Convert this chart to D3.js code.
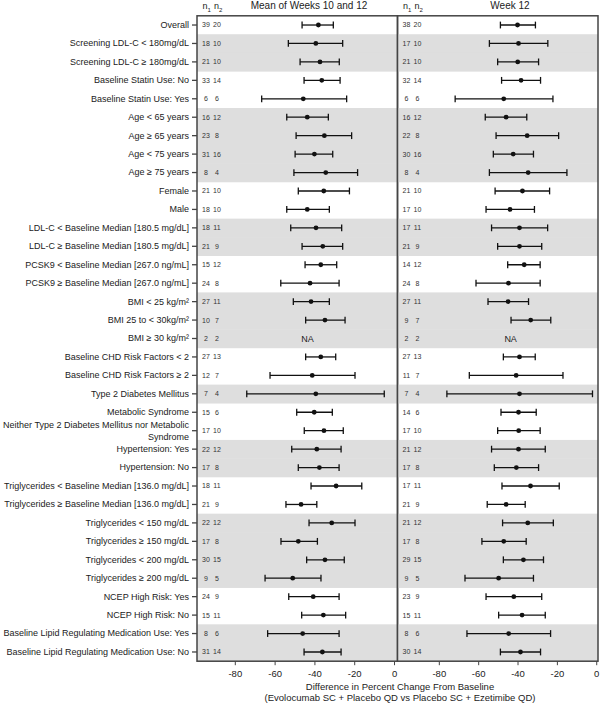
<!DOCTYPE html>
<html>
<head>
<meta charset="utf-8">
<script src="https://cdn.jsdelivr.net/npm/d3@7"></script>
<style>
  body { margin: 0; background: #fff; }
  svg { font-family: "Liberation Sans", Arial, sans-serif; }
</style>
</head>
<body>
<svg width="600" height="703"></svg>
<script>
// subgroup labels (top to bottom)
var labels = [
  "Overall",
  "Screening LDL-C < 180mg/dL",
  "Screening LDL-C ≥ 180mg/dL",
  "Baseline Statin Use: No",
  "Baseline Statin Use: Yes",
  "Age < 65 years",
  "Age ≥ 65 years",
  "Age < 75 years",
  "Age ≥ 75 years",
  "Female",
  "Male",
  "LDL-C < Baseline Median [180.5 mg/dL]",
  "LDL-C ≥ Baseline Median [180.5 mg/dL]",
  "PCSK9 < Baseline Median [267.0 ng/mL]",
  "PCSK9 ≥ Baseline Median [267.0 ng/mL]",
  "BMI < 25 kg/m²",
  "BMI 25 to < 30kg/m²",
  "BMI ≥ 30 kg/m²",
  "Baseline CHD Risk Factors < 2",
  "Baseline CHD Risk Factors ≥ 2",
  "Type 2 Diabetes Mellitus",
  "Metabolic Syndrome",
  "Neither Type 2 Diabetes Mellitus nor Metabolic\nSyndrome",
  "Hypertension: Yes",
  "Hypertension: No",
  "Triglycerides < Baseline Median [136.0 mg/dL]",
  "Triglycerides ≥ Baseline Median [136.0 mg/dL]",
  "Triglycerides < 150 mg/dL",
  "Triglycerides ≥ 150 mg/dL",
  "Triglycerides < 200 mg/dL",
  "Triglycerides ≥ 200 mg/dL",
  "NCEP High Risk: Yes",
  "NCEP High Risk: No",
  "Baseline Lipid Regulating Medication Use: Yes",
  "Baseline Lipid Regulating Medication Use: No"
];
// subgroup family of each row (odd families get the grey band)
var groups = [0,1,1,2,2,3,3,3,3,4,4,5,5,6,6,7,7,7,8,8,9,10,10,11,11,12,12,13,13,13,13,14,14,15,15];

// Mean of Weeks 10 and 12
var n1Mean = [39,18,21,33,6,16,23,31,8,21,18,18,21,15,24,27,10,2,27,12,7,15,17,22,17,18,21,22,17,30,9,24,15,8,31];
var n2Mean = [20,10,10,14,6,12,8,16,4,10,10,11,9,12,8,11,7,2,13,7,4,6,10,12,8,11,9,12,8,15,5,9,11,6,14];
var estMean = [-38.0,-39.3,-37.2,-36.3,-45.6,-43.6,-35.0,-40.0,-34.3,-35.3,-43.6,-39.2,-35.8,-36.8,-42.2,-41.7,-34.7,null,-36.8,-41.1,-39.3,-40.1,-35.2,-38.8,-37.5,-29.1,-46.7,-31.3,-48.1,-34.7,-50.9,-40.6,-35.5,-45.9,-36.0];
var loMean = [-46.2,-53.1,-47.2,-45.2,-66.5,-53.9,-49.2,-49.7,-50.3,-48.1,-53.9,-51.9,-46.2,-44.7,-56.9,-50.6,-44.4,null,-44.4,-62.3,-74.0,-48.9,-45.1,-51.4,-48.1,-41.7,-54.3,-42.7,-56.8,-43.9,-64.8,-52.9,-46.4,-63.5,-45.2];
var hiMean = [-30.5,-25.8,-27.5,-27.1,-23.8,-33.0,-21.3,-30.8,-18.3,-22.4,-32.5,-26.3,-25.8,-28.8,-27.6,-32.5,-24.6,null,-29.3,-19.6,-4.9,-31.0,-25.5,-26.6,-27.6,-16.2,-38.8,-19.6,-38.5,-25.0,-36.7,-27.6,-24.3,-27.6,-26.6];

// Week 12
var n1Wk12 = [38,17,21,32,6,16,22,30,8,21,17,17,21,14,24,27,9,2,27,11,7,14,17,21,17,17,21,21,17,29,9,23,15,8,30];
var n2Wk12 = [20,10,10,14,6,12,8,16,4,10,10,11,9,12,8,11,7,2,13,7,4,6,10,12,8,11,9,12,8,15,5,9,11,6,14];
var estWk12 = [-40.0,-39.5,-39.9,-38.2,-47.0,-45.8,-35.1,-42.2,-34.6,-37.5,-43.8,-39.0,-39.0,-36.6,-44.6,-44.8,-33.3,null,-39.0,-40.7,-39.0,-39.5,-39.4,-39.5,-40.6,-33.4,-45.8,-34.8,-47.0,-37.0,-49.6,-41.9,-37.7,-44.5,-38.5];
var loWk12 = [-48.7,-54.3,-50.1,-48.1,-71.7,-56.4,-50.9,-52.3,-54.3,-51.4,-56.0,-53.2,-50.1,-45.0,-61.1,-55.0,-43.3,null,-47.2,-64.5,-75.9,-48.4,-50.1,-53.2,-51.8,-47.9,-55.4,-47.6,-58.1,-47.2,-66.7,-56.0,-49.6,-65.7,-48.7];
var hiWk12 = [-30.9,-24.6,-29.3,-28.3,-22.0,-35.3,-19.1,-31.9,-14.9,-23.7,-31.4,-24.7,-27.7,-28.5,-28.5,-34.4,-23.1,null,-31.0,-16.9,-1.9,-30.5,-28.5,-25.9,-29.3,-18.8,-36.1,-21.8,-35.6,-26.8,-31.9,-27.7,-25.9,-23.2,-28.3];

var xTicks = [-80, -60, -40, -20, 0];
var naLabel = "NA", naAt = -43.5;

var svg = d3.select("svg");
var yTop = 15.8, yBottom = 661.2; // note: "top" is taken by window.top

var y = d3.scaleBand()
  .domain(d3.range(labels.length))
  .range([yTop, yBottom]);
var half = y.bandwidth() / 2;

function drawPanel(x0, x1, domain, n1, n2, est, lo, hi, title, titleX) {
  var x = d3.scaleLinear().domain(domain).range([x0, x1]);
  var g = svg.append("g").attr("class", "panel");

  // grey bands for alternate subgroup families
  g.selectAll("rect.band")
    .data(d3.range(labels.length).filter(function(i) { return groups[i] % 2 == 1; }))
    .enter().append("rect")
    .attr("class", "band")
    .attr("x", x0)
    .attr("width", x1 - x0)
    .attr("y", function(i) { return y(i); })
    .attr("height", y.bandwidth() + 0.5)
    .attr("fill", "#dedede");

  var rows = g.selectAll("g.row")
    .data(d3.range(labels.length))
    .enter().append("g")
    .attr("class", "row")
    .attr("transform", function(i) { return "translate(0," + (y(i) + half) + ")"; });

  rows.append("text")
    .attr("x", x0 + 9)
    .attr("dy", "0.35em")
    .attr("text-anchor", "middle")
    .attr("font-size", 7)
    .attr("fill", "#333")
    .text(function(i) { return n1[i]; });
  rows.append("text")
    .attr("x", x0 + 20)
    .attr("dy", "0.35em")
    .attr("text-anchor", "middle")
    .attr("font-size", 7)
    .attr("fill", "#333")
    .text(function(i) { return n2[i]; });

  var ok = rows.filter(function(i) { return est[i] != null; });
  ok.append("line")
    .attr("x1", function(i) { return x(lo[i]); })
    .attr("x2", function(i) { return x(hi[i]); })
    .attr("stroke", "#111").attr("stroke-width", 1.3);
  ok.append("line")
    .attr("x1", function(i) { return x(lo[i]); })
    .attr("x2", function(i) { return x(lo[i]); })
    .attr("y1", -3.4).attr("y2", 3.4)
    .attr("stroke", "#111").attr("stroke-width", 1.3);
  ok.append("line")
    .attr("x1", function(i) { return x(hi[i]); })
    .attr("x2", function(i) { return x(hi[i]); })
    .attr("y1", -3.4).attr("y2", 3.4)
    .attr("stroke", "#111").attr("stroke-width", 1.3);
  ok.append("circle")
    .attr("cx", function(i) { return x(est[i]); })
    .attr("r", 2.4)
    .attr("fill", "#111");

  rows.filter(function(i) { return est[i] == null; })
    .append("text")
    .attr("x", x(naAt))
    .attr("dy", "0.35em")
    .attr("text-anchor", "middle")
    .attr("font-size", 9)
    .attr("fill", "#222")
    .text(naLabel);

  // frame
  g.append("rect")
    .attr("x", x0).attr("y", yTop)
    .attr("width", x1 - x0).attr("height", yBottom - yTop)
    .attr("fill", "none")
    .attr("stroke", "#444")
    .attr("stroke-width", 1.5);

  // bottom axis (plain hyphen minus like the original)
  var ax = g.append("g")
    .attr("transform", "translate(0," + yBottom + ")")
    .call(d3.axisBottom(x).tickValues(xTicks).tickSize(4).tickPadding(5)
      .tickFormat(function(d) { return String(d); }));
  ax.select(".domain").remove();
  ax.selectAll("line").attr("stroke", "#444");
  ax.selectAll("text").attr("font-size", 9.5).attr("fill", "#222")
    .attr("font-family", "Liberation Sans, Arial, sans-serif");

  // header
  g.append("text")
    .attr("x", titleX).attr("y", 9)
    .attr("text-anchor", "middle")
    .attr("font-size", 10)
    .attr("fill", "#222")
    .text(title);
  var hn = g.append("text")
    .attr("y", 9)
    .attr("font-size", 9)
    .attr("fill", "#222");
  hn.append("tspan").attr("x", x0 + 5.5).text("n");
  hn.append("tspan").attr("dy", 2.5).attr("font-size", 6).text("1");
  hn.append("tspan").attr("x", x0 + 17).attr("dy", -2.5).text("n");
  hn.append("tspan").attr("dy", 2.5).attr("font-size", 6).text("2");
}

drawPanel(197, 397.5, [-99, 1.75], n1Mean, n2Mean, estMean, loMean, hiMean, "Mean of Weeks 10 and 12", 309);
drawPanel(397.5, 598, [-101, 0.9], n1Wk12, n2Wk12, estWk12, loWk12, hiWk12, "Week 12", 510);

// row labels on the left
var yAxis = svg.append("g")
  .attr("transform", "translate(197,0)")
  .call(d3.axisLeft(y).tickSize(5).tickPadding(3).tickFormat(function(i) { return labels[i]; }));
yAxis.select(".domain").remove();
yAxis.selectAll("line").attr("stroke", "#444").attr("stroke-width", 1.3);
yAxis.selectAll("text")
  .attr("font-size", 9)
  .attr("fill", "#222")
  .attr("font-family", "Liberation Sans, Arial, sans-serif")
  .each(function(i) {
    var parts = labels[i].split("\n");
    if (parts.length > 1) {
      var t = d3.select(this).text(null).attr("dy", null);
      t.append("tspan").attr("x", -8).attr("dy", "-0.35em").text(parts[0]);
      t.append("tspan").attr("x", -8).attr("dy", "1.4em").text(parts[1]);
    }
  });

// axis title
var xt = svg.append("text")
  .attr("text-anchor", "middle")
  .attr("font-size", 9.5)
  .attr("fill", "#222");
xt.append("tspan").attr("x", 400).attr("y", 690).text("Difference in Percent Change From Baseline");
xt.append("tspan").attr("x", 400).attr("y", 700.5).text("(Evolocumab SC + Placebo QD vs Placebo SC + Ezetimibe QD)");
</script>
</body>
</html>
